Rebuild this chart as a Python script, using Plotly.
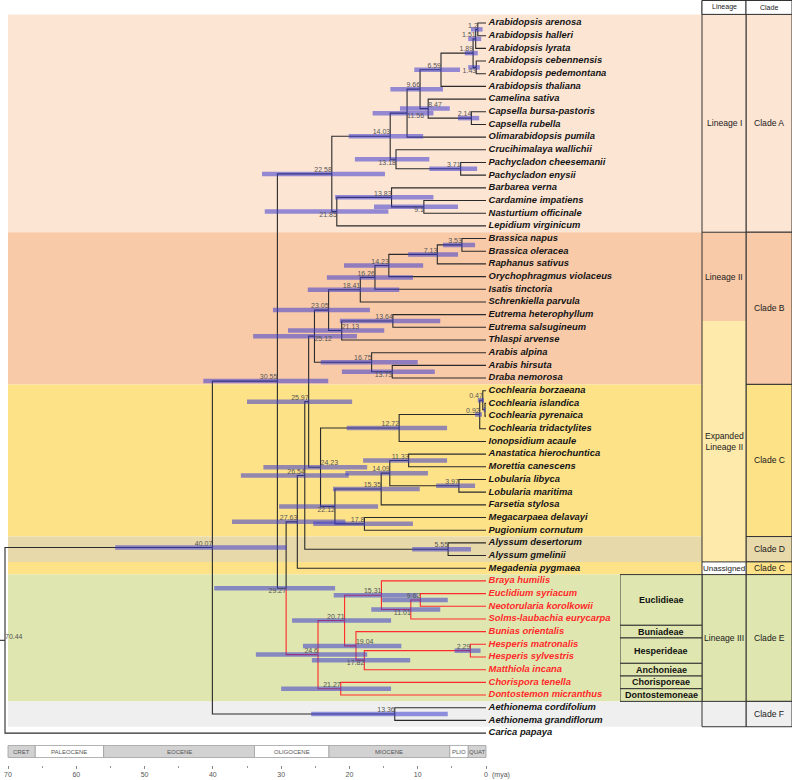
import plotly.graph_objects as go

# ---------------- data ----------------
taxa = [
    "Arabidopsis arenosa", "Arabidopsis halleri", "Arabidopsis lyrata", "Arabidopsis cebennensis",
    "Arabidopsis pedemontana", "Arabidopsis thaliana", "Camelina sativa", "Capsella bursa-pastoris",
    "Capsella rubella", "Olimarabidopsis pumila", "Crucihimalaya wallichii", "Pachycladon cheesemanii",
    "Pachycladon enysii", "Barbarea verna", "Cardamine impatiens", "Nasturtium officinale",
    "Lepidium virginicum",
    "Brassica napus", "Brassica oleracea", "Raphanus sativus", "Orychophragmus violaceus",
    "Isatis tinctoria", "Schrenkiella parvula", "Eutrema heterophyllum", "Eutrema salsugineum",
    "Thlaspi arvense", "Arabis alpina", "Arabis hirsuta", "Draba nemorosa",
    "Cochlearia borzaeana", "Cochlearia islandica", "Cochlearia pyrenaica", "Cochlearia tridactylites",
    "Ionopsidium acaule", "Anastatica hierochuntica", "Morettia canescens", "Lobularia libyca",
    "Lobularia maritima", "Farsetia stylosa", "Megacarpaea delavayi", "Pugionium cornutum",
    "Alyssum desertorum", "Alyssum gmelinii", "Megadenia pygmaea",
    "Braya humilis", "Euclidium syriacum", "Neotorularia korolkowii", "Solms-laubachia eurycarpa",
    "Bunias orientalis", "Hesperis matronalis", "Hesperis sylvestris", "Matthiola incana",
    "Chorispora tenella", "Dontostemon micranthus",
    "Aethionema cordifolium", "Aethionema grandiflorum", "Carica papaya",
]

node_ids = ["n%d" % i for i in range(1, 57)]
node_ages = [1.2, 1.51, 1.43, 1.89, 6.59, 2.14, 8.47, 9.66, 11.56, 3.71, 13.18, 14.03, 9.1, 13.83,
             21.85, 22.58, 3.53, 7.13, 14.23, 16.26, 18.41, 13.64, 21.13, 23.05, 13.73, 16.75, 25.12,
             0.15, 0.47, 0.92, 12.72, 11.33, 3.97, 14.09, 15.35, 17.8, 22.12, 24.23, 25.97, 5.55,
             26.54, 27.63, 9.62, 11.01, 15.31, 2.29, 17.82, 19.04, 20.71, 21.27, 24.6, 29.27, 30.55,
             13.36, 40.07, 70.44]
node_labels = ["1.2", "1.51", "1.43", "1.89", "6.59", "2.14", "8.47", "9.66", "11.56", "3.71", "13.18",
               "14.03", "9.1", "13.83", "21.85", "22.58", "3.53", "7.13", "14.23", "16.26", "18.41",
               "13.64", "21.13", "23.05", "13.73", "16.75", "25.12", "", "0.47", "0.92", "12.72",
               "11.33", "3.97", "14.09", "15.35", "17.8", "22.12", "24.23", "25.97", "5.55", "26.54",
               "27.63", "9.62", "11.01", "15.31", "2.29", "17.82", "19.04", "20.71", "21.27", "24.6",
               "29.27", "30.55", "13.36", "40.07", "70.44"]
node_child_a = ["Arabidopsis arenosa", "n1", "Arabidopsis cebennensis", "n2", "n4", "Capsella bursa-pastoris",
                "Camelina sativa", "n5", "n8", "Pachycladon cheesemanii", "Crucihimalaya wallichii", "n9",
                "Cardamine impatiens", "Barbarea verna", "n14", "n12",
                "Brassica napus", "n17", "n18", "n19", "n20", "Eutrema heterophyllum", "n22", "n21",
                "Arabis hirsuta", "Arabis alpina", "n24",
                "Cochlearia islandica", "Cochlearia borzaeana", "n29", "n30", "Anastatica hierochuntica",
                "Lobularia libyca", "n32", "n34", "Megacarpaea delavayi", "n35", "n31", "n27",
                "Alyssum desertorum", "n39", "n41",
                "Euclidium syriacum", "n43", "Braya humilis", "Hesperis matronalis", "n46",
                "Bunias orientalis", "n45", "Chorispora tenella", "n49", "n42", "n16",
                "Aethionema cordifolium", "n53", "n55"]
node_child_b = ["Arabidopsis halleri", "Arabidopsis lyrata", "Arabidopsis pedemontana", "n3",
                "Arabidopsis thaliana", "Capsella rubella", "n6", "n7", "Olimarabidopsis pumila",
                "Pachycladon enysii", "n10", "n11", "Nasturtium officinale", "n13", "Lepidium virginicum",
                "n15",
                "Brassica oleracea", "Raphanus sativus", "Orychophragmus violaceus", "Isatis tinctoria",
                "Schrenkiella parvula", "Eutrema salsugineum", "Thlaspi arvense", "n23", "Draba nemorosa",
                "n25", "n26",
                "Cochlearia pyrenaica", "n28", "Cochlearia tridactylites", "Ionopsidium acaule",
                "Morettia canescens", "Lobularia maritima", "n33", "Farsetia stylosa",
                "Pugionium cornutum", "n36", "n37", "n38", "Alyssum gmelinii", "n40", "Megadenia pygmaea",
                "Neotorularia korolkowii", "Solms-laubachia eurycarpa", "n44", "Hesperis sylvestris",
                "Matthiola incana", "n47", "n48", "Dontostemon micranthus", "n50", "n51", "n52",
                "Aethionema grandiflorum", "n54", "Carica papaya"]
hpd_low = [0.5, 0.7, 0.9, 1.2, 3.8, 1.0, 5.3, 6.3, 7.7, 1.3, 8.3, 9.2, 4.1, 7.7, 14.3, 14.8,
           1.6, 4.1, 9.2, 10.7, 12.7, 6.7, 14.9, 17.0, 7.5, 10.0, 18.9,
           0.05, 0.3, 0.6, 5.7, 5.7, 1.6, 8.5, 9.7, 10.7, 15.8, 17.4, 19.6, 2.2, 20.1, 20.6,
           5.6, 6.7, 10.0, 0.8, 11.1, 12.4, 13.9, 13.9, 17.4, 22.1, 23.1, 5.6, 29.2, None]
hpd_high = [2.2, 2.6, 2.6, 3.1, 10.5, 4.1, 12.6, 14.0, 16.6, 8.3, 19.2, 20.1, 16.4, 22.1, 32.4, 32.8,
            6.3, 11.4, 20.8, 23.3, 26.1, 21.4, 29.0, 31.2, 21.1, 24.2, 34.1,
            0.35, 1.2, 1.6, 20.4, 18.0, 7.3, 20.6, 22.4, 25.3, 30.3, 32.6, 35.0, 10.8, 35.9, 37.2,
            15.2, 16.8, 22.3, 4.6, 25.5, 26.8, 28.4, 30.0, 33.7, 39.8, 41.4, 25.6, 54.3, None]

lineage3_root = "n51"

clade_names = ["Clade A", "Clade B", "Clade C", "Clade D", "Clade C", "Clade E", "Clade F"]
clade_sizes = [17, 12, 12, 2, 1, 10, 2]
lineage_names = ["Lineage I", "Lineage II", "Expanded<br>Lineage II", "Unassigned", "Lineage III", ""]
lineage_sizes = [17, 7, 19, 1, 10, 2]
tribe_names = ["Euclidieae", "Buniadeae", "Hesperideae", "Anchonieae", "Chorisporeae", "Dontostemoneae"]
tribe_sizes = [4, 1, 2, 1, 1, 1]
tribe_first_taxon = "Braya humilis"

epoch_names = ["CRET", "PALEOCENE", "EOCENE", "OLIGOCENE", "MIOCENE", "PLIO", "QUAT"]
epoch_start = [70, 66, 56, 33.9, 23, 5.3, 2.6]
epoch_end = [66, 56, 33.9, 23, 5.3, 2.6, 0]

tick_vals = [70, 60, 50, 40, 30, 20, 10, 0]
minor_tick_vals = [65, 55, 45, 35, 25, 15, 5]

# ---------------- layout constants ----------------
W, H = 793, 780
MB = 15
PLOT_H = H - MB
AGE_MAX, X_AT_MAX, X_AT_ZERO = 70.0, 8.0, 486.0
SCALE = (X_AT_ZERO - X_AT_MAX) / AGE_MAX
ROW1_PX, ROW_STEP = 23.0, 12.68


def px_to_age(px):
    return (X_AT_ZERO - px) / SCALE


def px_to_row(py):
    return 1 + (py - ROW1_PX) / ROW_STEP


X_RANGE = [px_to_age(0), px_to_age(W)]
Y_RANGE = [px_to_row(PLOT_H), px_to_row(0)]
TABLE_LEFT_PX, TRIBE_LEFT_PX, TABLE_RIGHT_PX = 702, 620, 792
BAND_RIGHT_AGE = px_to_age(TABLE_LEFT_PX)
TOP_EDGE = 0.32
HEADER_TOP = px_to_row(0.5)

COL_TRIBE = (0, TABLE_LEFT_PX - TRIBE_LEFT_PX)
COL_LIN = (COL_TRIBE[1], COL_TRIBE[1] + 44)
COL_CLADE = (COL_LIN[1], TABLE_RIGHT_PX - TRIBE_LEFT_PX)

FILL = {"Clade A": "#FDE5D4", "Clade B": "#F9CAA8", "Clade C": "#FEE288", "Clade D": "#E8D9AA",
        "Clade E": "#DFE6B0", "Clade F": "#EFEFEF"}
LIN_FILL = ["#FDE5D4", "#F9CAA8", "#FEEAAA", "#FFFFFF", "#DFE6B0", "#EFEFEF"]
LIN_TOP_BORDER = [True, True, False, True, True, True]
FONT = "Liberation Sans, Arial, sans-serif"
BRANCH_COLOR = "#2a2a2a"
RED = "#FF2A2A"
BAR_COLOR = "rgba(60,60,205,0.55)"

LABEL_POS = {"n3": "bottom left", "n9": "bottom right", "n11": "bottom left", "n13": "bottom left",
             "n15": "bottom left", "n25": "bottom left", "n27": "bottom right", "n37": "bottom left",
             "n52": "bottom left", "n47": "bottom left", "n44": "bottom left", "n38": "top right",
             "n48": "top right", "n23": "top right", "n7": "top right", "n56": "top right"}

# ---------------- tree geometry ----------------
pos = {name: (0.0, float(i + 1)) for i, name in enumerate(taxa)}
children = {}
for nid, age, a, b in zip(node_ids, node_ages, node_child_a, node_child_b):
    pos[nid] = (age, (pos[a][1] + pos[b][1]) / 2.0)
    children[nid] = (a, b)

red_set = set()
stack = [lineage3_root]
while stack:
    n = stack.pop()
    red_set.add(n)
    if n in children:
        stack.extend(children[n])

bx, by, rx, ry = [], [], [], []
for nid in node_ids:
    px_, py_ = pos[nid]
    for c in children[nid]:
        cx, cy = pos[c]
        xs, ys = (rx, ry) if c in red_set else (bx, by)
        xs += [px_, px_, cx, None]
        ys += [py_, cy, cy, None]
root = node_ids[-1]
bx += [X_RANGE[0], pos[root][0], None]
by += [pos[root][1], pos[root][1], None]

fig = go.Figure()
fig.add_trace(go.Scatter(x=bx, y=by, mode="lines", line=dict(color=BRANCH_COLOR, width=1.1),
                         hoverinfo="skip", showlegend=False))
fig.add_trace(go.Scatter(x=rx, y=ry, mode="lines", line=dict(color=RED, width=1.1),
                         hoverinfo="skip", showlegend=False))

hx, hy = [], []
for nid, lo, hi in zip(node_ids, hpd_low, hpd_high):
    if lo is None:
        continue
    hx += [hi, lo, None]
    hy += [pos[nid][1], pos[nid][1], None]
fig.add_trace(go.Scatter(x=hx, y=hy, mode="lines", line=dict(color=BAR_COLOR, width=4.5),
                         hoverinfo="skip", showlegend=False))

fig.add_trace(go.Scatter(
    x=[pos[n][0] for n in node_ids], y=[pos[n][1] for n in node_ids], mode="text",
    text=node_labels, textposition=[LABEL_POS.get(n, "top left") for n in node_ids],
    textfont=dict(family=FONT, size=7, color="#555555"), hoverinfo="skip", showlegend=False))

fig.add_trace(go.Scatter(
    x=[pos[t][0] for t in taxa], y=[pos[t][1] for t in taxa], mode="text",
    text=["\u00a0<b><i>%s</i></b>" % t for t in taxa], textposition="middle right",
    textfont=dict(family=FONT, size=9.4, color=[RED if t in red_set else "#151515" for t in taxa]),
    hoverinfo="skip", showlegend=False))

fig.add_trace(go.Scatter(x=[], y=[], xaxis="x2", yaxis="y", showlegend=False))

shapes, annotations = [], []

start = TOP_EDGE
edge = 0.5
for name, size in zip(clade_names, clade_sizes):
    end = edge + size
    shapes.append(dict(type="rect", xref="x", yref="y", x0=AGE_MAX, x1=BAND_RIGHT_AGE, y0=start, y1=end,
                       fillcolor=FILL[name], line=dict(width=0), layer="below"))
    start = end
    edge = end

LINE = dict(color="#333333", width=1)
table_bottom = edge

start = TOP_EDGE
edge = 0.5
for name, size in zip(clade_names, clade_sizes):
    end = edge + size
    shapes.append(dict(type="rect", xref="x2", yref="y", x0=COL_CLADE[0], x1=COL_CLADE[1], y0=start, y1=end,
                       fillcolor=FILL[name], line=LINE, layer="below"))
    annotations.append(dict(xref="x2", yref="y", x=(COL_CLADE[0] + COL_CLADE[1]) / 2, y=(start + end) / 2,
                            text=name, showarrow=False, font=dict(family=FONT, size=8.6, color="#1a1a1a")))
    start = end
    edge = end

start = TOP_EDGE
edge = 0.5
for name, size, fill, top in zip(lineage_names, lineage_sizes, LIN_FILL, LIN_TOP_BORDER):
    end = edge + size
    shapes.append(dict(type="rect", xref="x2", yref="y", x0=COL_LIN[0], x1=COL_LIN[1], y0=start, y1=end,
                       fillcolor=fill, line=dict(width=0), layer="below"))
    if top:
        shapes.append(dict(type="line", xref="x2", yref="y", x0=COL_LIN[0], x1=COL_LIN[1], y0=start, y1=start,
                           line=LINE, layer="below"))
    if name:
        annotations.append(dict(xref="x2", yref="y", x=(COL_LIN[0] + COL_LIN[1]) / 2, y=(start + end) / 2,
                                text=name, showarrow=False,
                                font=dict(family=FONT, size=8 if name == "Unassigned" else 8.6,
                                          color="#1a1a1a")))
    start = end
    edge = end
shapes.append(dict(type="line", xref="x2", yref="y", x0=COL_LIN[0], x1=COL_LIN[1], y0=table_bottom,
                   y1=table_bottom, line=LINE, layer="below"))
for xv in (COL_LIN[0], COL_LIN[1]):
    shapes.append(dict(type="line", xref="x2", yref="y", x0=xv, x1=xv, y0=HEADER_TOP, y1=table_bottom,
                       line=LINE, layer="below"))

for col, txt in ((COL_LIN, "Lineage"), (COL_CLADE, "Clade")):
    shapes.append(dict(type="rect", xref="x2", yref="y", x0=col[0], x1=col[1], y0=HEADER_TOP, y1=TOP_EDGE,
                       fillcolor="white", line=LINE, layer="below"))
    annotations.append(dict(xref="x2", yref="y", x=(col[0] + col[1]) / 2, y=(HEADER_TOP + TOP_EDGE) / 2,
                            text=txt, showarrow=False, font=dict(family=FONT, size=7, color="#1a1a1a")))

edge = taxa.index(tribe_first_taxon) + 0.5
for name, size in zip(tribe_names, tribe_sizes):
    end = edge + size
    shapes.append(dict(type="rect", xref="x2", yref="y", x0=COL_TRIBE[0], x1=COL_TRIBE[1], y0=edge, y1=end,
                       fillcolor=FILL["Clade E"], line=LINE, layer="below"))
    annotations.append(dict(xref="x2", yref="y", x=(COL_TRIBE[0] + COL_TRIBE[1]) / 2, y=(edge + end) / 2,
                            text="<b>%s</b>" % name, showarrow=False,
                            font=dict(family=FONT, size=9, color="#111111")))
    edge = end

TS_TOP, TS_BOT = px_to_row(745.5), px_to_row(757.5)
for i, (nm, s, e) in enumerate(zip(epoch_names, epoch_start, epoch_end)):
    shapes.append(dict(type="rect", xref="x", yref="y", x0=s, x1=e, y0=TS_TOP, y1=TS_BOT,
                       fillcolor="#D2D2D2" if i % 2 == 0 else "#FFFFFF",
                       line=dict(color="#A0A0A0", width=0.8), layer="below"))
    annotations.append(dict(xref="x", yref="y", x=(s + e) / 2, y=(TS_TOP + TS_BOT) / 2, text=nm,
                            showarrow=False, font=dict(family=FONT, size=6, color="#555555")))

annotations.append(dict(xref="x", yref="paper", x=0, y=0, xanchor="left", yanchor="top", xshift=4, yshift=-4,
                        text="(mya)", showarrow=False, font=dict(family=FONT, size=7, color="#555555")))

fig.update_layout(
    width=W, height=H, margin=dict(l=0, r=0, t=0, b=MB),
    paper_bgcolor="white", plot_bgcolor="rgba(0,0,0,0)",
    shapes=shapes, annotations=annotations, showlegend=False,
    xaxis=dict(domain=[0, 1], range=X_RANGE, showgrid=False, zeroline=False, showline=False,
               tickmode="array", tickvals=tick_vals, ticktext=[str(v) for v in tick_vals],
               ticks="outside", ticklen=3, tickcolor="#888888", tickwidth=1,
               tickfont=dict(family=FONT, size=7, color="#555555"),
               minor=dict(tickmode="array", tickvals=minor_tick_vals, ticks="outside", ticklen=2,
                          tickcolor="#999999", showgrid=False),
               fixedrange=True),
    xaxis2=dict(domain=[TRIBE_LEFT_PX / W, TABLE_RIGHT_PX / W], range=[0, TABLE_RIGHT_PX - TRIBE_LEFT_PX],
                anchor="y", visible=False, fixedrange=True),
    yaxis=dict(domain=[0, 1], range=Y_RANGE, visible=False, fixedrange=True),
)

fig.write_html("out.html", config={"displayModeBar": False},
               post_script="document.body.style.margin='0px';document.body.style.overflow='hidden';")
